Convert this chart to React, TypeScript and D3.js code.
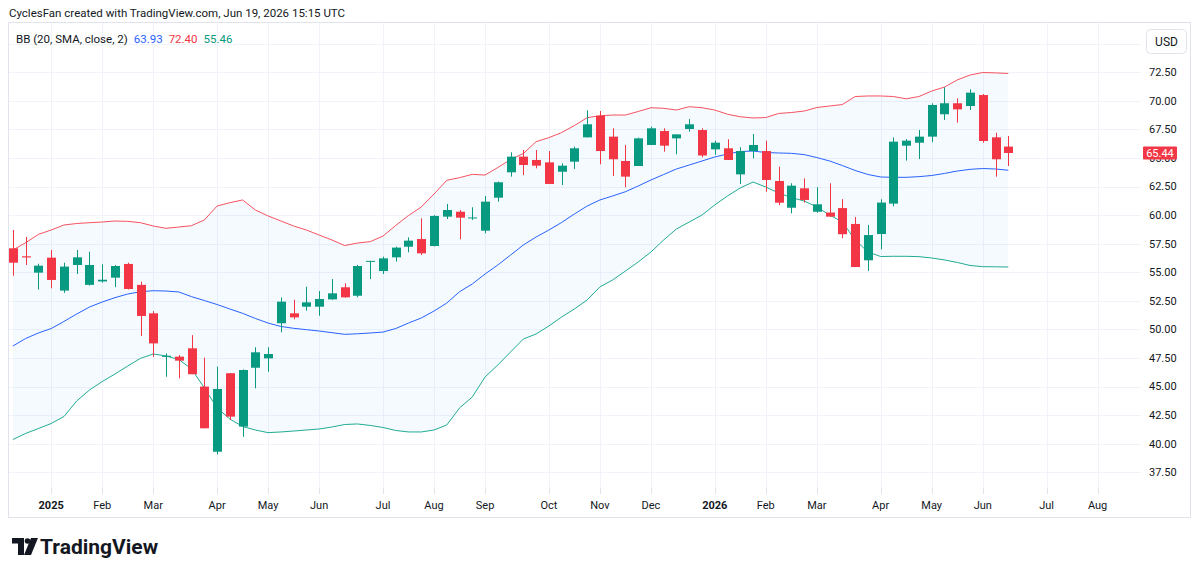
import React, { useEffect, useRef } from "react"
import * as d3 from "d3"

// weekly candles, first bar = week of Dec 16 2024
const opens = [57.1, 56.4, 54.97, 56.28, 53.4, 55.64, 53.9, 54.2, 54.53, 55.73, 53.9, 51.41, 47.6, 47.62, 48.35, 45.0, 39.3, 46.17, 41.5, 46.65, 47.47, 50.54, 51.41, 51.99, 51.99, 52.63, 53.69, 52.95, 55.93, 55.11, 56.31, 57.24, 57.91, 57.3, 59.87, 60.3, 59.75, 58.64, 61.53, 63.75, 65.12, 64.83, 64.62, 63.8, 64.68, 66.81, 68.7, 66.87, 64.74, 64.3, 66.14, 67.36, 66.72, 67.54, 67.45, 65.76, 65.85, 63.57, 65.61, 65.61, 62.99, 60.65, 62.35, 60.3, 60.23, 60.62, 59.23, 56.05, 58.35, 61.01, 66.08, 66.34, 66.87, 68.83, 69.79, 69.55, 70.51, 66.81, 66.0]
const highs = [58.7, 58.1, 55.75, 56.95, 55.84, 56.95, 56.8, 55.7, 55.64, 55.84, 54.18, 51.6, 47.9, 47.76, 49.5, 47.53, 46.74, 46.17, 46.5, 48.44, 48.44, 52.8, 52.6, 53.74, 53.36, 54.41, 54.04, 55.64, 56.0, 56.37, 57.24, 58.06, 59.72, 60.0, 60.98, 60.45, 60.69, 61.68, 62.93, 65.5, 65.7, 65.7, 65.61, 64.54, 65.99, 69.17, 69.11, 67.6, 66.14, 66.78, 67.74, 67.6, 67.07, 68.41, 67.6, 66.52, 66.64, 65.94, 67.1, 66.52, 64.24, 62.79, 63.22, 62.44, 62.79, 61.4, 59.84, 59.14, 61.39, 66.8, 66.66, 67.45, 69.79, 71.19, 70.22, 71.01, 70.6, 67.21, 66.93]
const lows = [54.7, 55.64, 53.5, 53.6, 53.2, 54.85, 53.85, 54.1, 53.7, 53.5, 49.43, 47.6, 45.86, 45.72, 46.08, 41.35, 39.07, 42.08, 40.6, 44.85, 46.3, 49.75, 50.89, 51.64, 51.2, 52.6, 52.78, 52.81, 54.41, 54.85, 55.93, 56.75, 56.51, 57.27, 59.66, 57.89, 59.58, 58.41, 61.18, 63.37, 63.51, 64.1, 62.73, 62.64, 64.04, 66.8, 64.45, 63.43, 62.44, 64.3, 66.14, 65.55, 65.33, 67.3, 65.06, 65.28, 64.83, 62.73, 64.97, 62.05, 60.89, 60.16, 61.09, 60.21, 59.87, 57.98, 55.46, 55.12, 57.01, 60.77, 64.77, 64.91, 66.38, 68.33, 68.09, 69.2, 66.34, 63.37, 64.3]
const closes = [55.84, 56.3, 55.58, 54.33, 55.5, 56.31, 55.64, 54.35, 55.55, 53.54, 51.18, 48.78, 47.7, 47.27, 46.08, 41.35, 44.79, 42.37, 46.45, 48.0, 47.85, 52.43, 51.06, 52.37, 52.66, 53.16, 52.81, 55.55, 56.0, 56.22, 57.16, 57.77, 56.66, 59.93, 60.45, 59.78, 59.8, 61.18, 62.88, 65.12, 64.39, 64.33, 62.73, 64.33, 65.85, 67.95, 65.61, 64.89, 63.37, 66.72, 67.6, 66.08, 67.07, 67.95, 65.22, 66.34, 64.83, 65.61, 66.14, 63.08, 61.09, 62.58, 61.33, 60.95, 59.87, 58.33, 55.46, 58.26, 61.1, 66.43, 66.52, 66.87, 69.64, 69.79, 69.26, 70.72, 66.49, 64.89, 65.44]

// Bollinger bands (20, SMA, close, 2)
const upperBand = [56.95, 57.59, 58.32, 58.7, 59.14, 59.27, 59.34, 59.4, 59.49, 59.46, 59.34, 59.05, 58.85, 58.96, 59.08, 59.58, 60.8, 61.09, 61.33, 60.45, 59.93, 59.49, 59.05, 58.7, 58.26, 57.83, 57.34, 57.56, 57.68, 58.17, 59.1, 59.97, 60.71, 61.85, 63.05, 63.28, 63.57, 63.51, 64.17, 64.87, 65.39, 66.43, 66.78, 67.23, 67.84, 68.53, 68.7, 68.76, 68.76, 69.07, 69.4, 69.35, 69.2, 69.49, 69.4, 69.2, 68.83, 68.61, 68.5, 68.54, 68.9, 68.98, 69.11, 69.42, 69.55, 69.68, 70.38, 70.43, 70.43, 70.38, 70.18, 70.38, 70.86, 71.21, 71.83, 72.26, 72.48, 72.45, 72.4]
const basisBand = [48.55, 49.21, 49.69, 50.08, 50.7, 51.35, 51.96, 52.4, 52.78, 53.1, 53.3, 53.39, 53.36, 53.28, 52.87, 52.53, 52.18, 51.79, 51.41, 50.96, 50.56, 50.26, 50.1, 49.98, 49.86, 49.72, 49.57, 49.62, 49.69, 49.77, 50.08, 50.56, 51.0, 51.61, 52.31, 53.3, 53.98, 54.85, 55.64, 56.51, 57.39, 58.09, 58.7, 59.36, 60.1, 60.8, 61.33, 61.68, 62.05, 62.55, 63.08, 63.56, 64.04, 64.39, 64.74, 65.09, 65.35, 65.57, 65.61, 65.48, 65.44, 65.41, 65.3, 65.04, 64.74, 64.34, 63.91, 63.56, 63.34, 63.31, 63.31, 63.37, 63.47, 63.65, 63.86, 64.01, 64.08, 64.04, 63.93]
const lowerBand = [40.37, 40.9, 41.33, 41.77, 42.38, 43.74, 44.7, 45.44, 46.1, 46.8, 47.47, 47.85, 47.68, 47.37, 46.54, 44.88, 43.13, 42.16, 41.51, 41.2, 40.97, 41.03, 41.11, 41.2, 41.29, 41.46, 41.68, 41.73, 41.6, 41.42, 41.16, 41.03, 41.03, 41.2, 41.64, 43.13, 44.09, 45.84, 46.89, 48.03, 49.16, 49.6, 50.3, 51.09, 51.79, 52.58, 53.72, 54.33, 55.11, 55.9, 56.78, 57.83, 58.79, 59.4, 60.01, 60.89, 61.68, 62.38, 62.9, 62.46, 61.94, 61.54, 61.24, 60.71, 60.01, 59.4, 57.83, 56.78, 56.38, 56.4, 56.4, 56.37, 56.25, 56.08, 55.86, 55.6, 55.49, 55.48, 55.46]

const priceTicks = [37.5, 40, 42.5, 45, 47.5, 50, 52.5, 55, 57.5, 60, 62.5, 65, 67.5, 70, 72.5]
const legendValues = ["63.93", "72.40", "55.46"]

const UP = "#089981"
const DOWN = "#f23645"
const FONT = "Roboto, 'Noto Sans', sans-serif"

function App() {
  const ref = useRef(null)
  const width = 1200
  const height = 574
  const pane = { left: 8, right: 1141, top: 22, bottom: 488 }

  useEffect(() => {
    drawChart()
  }, [])

  function drawChart() {
    const svg = d3.select(ref.current)
    svg.selectAll("*").remove()

    const start = new Date(Date.UTC(2024, 11, 16))
    const weeks = d3.utcMonday.range(start, new Date(Date.UTC(2026, 7, 20)))
    const dates = weeks.slice(0, closes.length)

    const x = d3
      .scaleUtc()
      .domain([start, new Date(Date.UTC(2026, 7, 3))])
      .range([12.9, 1097.6])
    const y = d3.scaleLinear().domain([37.5, 72.5]).range([472.3, 72.3])

    svg.append("rect").attr("width", width).attr("height", height).attr("fill", "#ffffff")

    // month ticks = first weekly bar of each month
    const monthTicks = weeks.filter((d) => d.getUTCDate() <= 7)

    // grid
    const grid = svg.append("g").attr("stroke", "#f0f3fa").attr("stroke-width", 1)
    grid
      .selectAll("line.v")
      .data(monthTicks)
      .enter()
      .append("line")
      .attr("x1", (d) => Math.round(x(d)) + 0.5)
      .attr("x2", (d) => Math.round(x(d)) + 0.5)
      .attr("y1", pane.top)
      .attr("y2", pane.bottom)
    grid
      .selectAll("line.h")
      .data([...priceTicks, 75])
      .enter()
      .append("line")
      .attr("x1", pane.left)
      .attr("x2", pane.right)
      .attr("y1", (d) => Math.round(y(d)) + 0.5)
      .attr("y2", (d) => Math.round(y(d)) + 0.5)

    // frame
    svg
      .append("rect")
      .attr("x", 8.5)
      .attr("y", 22.5)
      .attr("width", 1182)
      .attr("height", 495)
      .attr("fill", "none")
      .attr("stroke", "#e0e3eb")

    const plot = svg.append("g")

    // band fill
    const area = d3
      .area()
      .x((d, i) => x(dates[i]))
      .y0((d, i) => y(lowerBand[i]))
      .y1((d) => y(d))
    plot
      .append("path")
      .attr("d", area(upperBand))
      .attr("fill", "rgba(33,150,243,0.05)")

    const line = d3
      .line()
      .x((d, i) => x(dates[i]))
      .y((d) => y(d))
    const bands = [
      { data: upperBand, color: "#f7525f" },
      { data: basisBand, color: "#2962ff" },
      { data: lowerBand, color: "#22ab94" }
    ]
    bands.forEach((b) => {
      plot
        .append("path")
        .attr("d", line(b.data))
        .attr("fill", "none")
        .attr("stroke", b.color)
        .attr("stroke-width", 1)
    })

    // candles
    const bodyW = 9
    const candle = plot
      .selectAll("g.candle")
      .data(closes)
      .enter()
      .append("g")
      .attr("fill", (d, i) => (d >= opens[i] ? UP : DOWN))
      .attr("stroke", (d, i) => (d >= opens[i] ? UP : DOWN))
    candle
      .append("line")
      .attr("x1", (d, i) => Math.round(x(dates[i])) + 0.5)
      .attr("x2", (d, i) => Math.round(x(dates[i])) + 0.5)
      .attr("y1", (d, i) => y(highs[i]))
      .attr("y2", (d, i) => y(lows[i]))
    candle
      .append("rect")
      .attr("x", (d, i) => Math.round(x(dates[i])) - bodyW / 2 + 0.5)
      .attr("width", bodyW)
      .attr("y", (d, i) => y(Math.max(d, opens[i])))
      .attr("height", (d, i) => Math.max(1, y(Math.min(d, opens[i])) - y(Math.max(d, opens[i]))))
      .attr("stroke", "none")

    // price axis (65.00 sits under the last-price tag, as in TradingView)
    svg
      .selectAll("text.price")
      .data(priceTicks)
      .enter()
      .append("text")
      .attr("x", 1149)
      .attr("y", (d) => y(d))
      .attr("dy", "0.35em")
      .attr("font-family", FONT)
      .attr("font-size", 11)
      .attr("fill", "#131722")
      .text((d) => d.toFixed(2))

    const last = closes[closes.length - 1]
    svg
      .append("rect")
      .attr("x", 1143)
      .attr("y", y(last) - 6.5)
      .attr("width", 34)
      .attr("height", 13)
      .attr("rx", 1)
      .attr("fill", DOWN)
    svg
      .append("text")
      .attr("x", 1160)
      .attr("y", y(last))
      .attr("dy", "0.35em")
      .attr("text-anchor", "middle")
      .attr("font-family", FONT)
      .attr("font-size", 11)
      .attr("fill", "#ffffff")
      .text(last.toFixed(2))

    // USD button
    svg
      .append("rect")
      .attr("x", 1146.5)
      .attr("y", 29.5)
      .attr("width", 40)
      .attr("height", 24)
      .attr("rx", 4)
      .attr("fill", "#ffffff")
      .attr("stroke", "#e0e3eb")
    svg
      .append("text")
      .attr("x", 1166.5)
      .attr("y", 42)
      .attr("dy", "0.35em")
      .attr("text-anchor", "middle")
      .attr("font-family", FONT)
      .attr("font-size", 12)
      .attr("fill", "#131722")
      .text("USD")

    // time axis
    const timeTicks = monthTicks.filter((d) => d >= new Date(Date.UTC(2025, 0, 1)))
    svg
      .selectAll("line.tt")
      .data(timeTicks)
      .enter()
      .append("line")
      .attr("x1", (d) => Math.round(x(d)) + 0.5)
      .attr("x2", (d) => Math.round(x(d)) + 0.5)
      .attr("y1", pane.bottom)
      .attr("y2", pane.bottom + 6)
      .attr("stroke", "#e0e3eb")
    svg
      .selectAll("text.tt")
      .data(timeTicks)
      .enter()
      .append("text")
      .attr("x", (d) => x(d))
      .attr("y", 505)
      .attr("dy", "0.35em")
      .attr("text-anchor", "middle")
      .attr("font-family", FONT)
      .attr("font-size", 11)
      .attr("font-weight", (d) => (d.getUTCMonth() === 0 ? 700 : 400))
      .attr("fill", "#131722")
      .text((d) => (d.getUTCMonth() === 0 ? d3.utcFormat("%Y")(d) : d3.utcFormat("%b")(d)))

    // header + legend
    svg
      .append("text")
      .attr("x", 9)
      .attr("y", 13)
      .attr("dy", "0.35em")
      .attr("font-family", FONT)
      .attr("font-size", 11.5)
      .attr("fill", "#131722")
      .text("CyclesFan created with TradingView.com, Jun 19, 2026 15:15 UTC")

    const legend = svg
      .append("text")
      .attr("x", 16)
      .attr("y", 39)
      .attr("dy", "0.35em")
      .attr("font-family", FONT)
      .attr("font-size", 11.5)
      .attr("fill", "#131722")
    legend.append("tspan").text("BB (20, SMA, close, 2)")
    const legendColors = ["#2962ff", "#f23645", "#089981"]
    legendValues.forEach((v, i) => {
      legend.append("tspan").attr("dx", 6).attr("fill", legendColors[i]).text(v)
    })

    // TradingView logo
    const logo = svg.append("g").attr("fill", "#131722")
    logo.append("path").attr("d", "M12,538 H24 V555 H18 V543.5 H12 Z")
    logo.append("circle").attr("cx", 27.5).attr("cy", 541).attr("r", 2.8)
    logo.append("path").attr("d", "M31,538 H38 L31,555 H24 Z")
    svg
      .append("text")
      .attr("x", 40)
      .attr("y", 546.5)
      .attr("dy", "0.35em")
      .attr("font-family", FONT)
      .attr("font-size", 21)
      .attr("font-weight", 700)
      .attr("fill", "#131722")
      .text("TradingView")
  }

  return (
    <svg
      ref={ref}
      width={width}
      height={height}
      style={{ position: "absolute", left: 0, top: 0, display: "block" }}
    />
  )
}

export default App
